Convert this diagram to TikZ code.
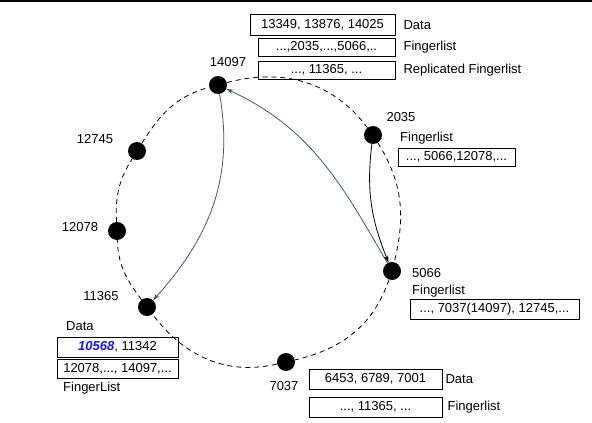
\documentclass[tikz,border=0pt]{standalone}
\usepackage{fontspec}
\setmainfont{Liberation Sans}
\usetikzlibrary{arrows.meta,positioning}
\definecolor{cteal}{RGB}{58,98,98}
\definecolor{cid}{RGB}{20,20,255}
\newcommand{\idfont}{\fontsize{13}{15}\selectfont}
\tikzset{
  peer/.style={circle,fill=black,draw=none,minimum size=18pt,inner sep=0pt},
  ring/.style={dash pattern=on 5pt off 4pt,line width=0.8pt},
  listbox/.style={rectangle,draw,line width=0.8pt,inner sep=0pt,font=\idfont},
  lab/.style={inner sep=0pt,font=\idfont},
  arr/.style={-{Stealth[length=7pt,width=4.5pt]},line width=0.8pt},
  farr/.style={arr,color=cteal}
}

\begin{document}
\begin{tikzpicture}[x=1pt,y=-1pt]
  \useasboundingbox (0,0) rectangle (592,423);
  \draw[line width=2pt] (0,1) -- (592,1);
  % peers on the ring
  \node[peer] (n14097) at (218,85) {};
  \node[peer] (n2035) at (373,135) {};
  \node[peer] (n5066) at (392,271) {};
  \node[peer] (n7037) at (286,362) {};
  \node[peer] (n11365) at (147,307) {};
  \node[peer] (n12078) at (117,231) {};
  \node[peer] (n12745) at (137,151) {};
  \foreach \a/\b/\o/\i in {n14097/n2035/15/127, n2035/n5066/-58/76,
      n5066/n7037/-109/13, n7037/n11365/-167/-53, n11365/n12078/127/-88,
      n12078/n12745/93/-122, n12745/n14097/58/-165}
    \draw[ring] (\a) to[out=\o,in=\i] (\b);
  \node[lab] (l14097) at (228,62) {14097};
  \node[lab] (l2035) at (401,117) {2035};
  \node[lab,anchor=west] (l5066) at (412,273) {5066};
  \node[lab] (l7037) at (284,386) {7037};
  \node[lab] (l11365) at (101,296) {11365};
  \node[lab] (l12078) at (80,227) {12078};
  \node[lab] (l12745) at (95,139) {12745};
  % lists of 14097
  \node[listbox,minimum width=145pt,minimum height=21pt] (d14097) at (322.5,25) {13349, 13876, 14025};
  \node[listbox,minimum width=137pt,minimum height=18pt] (f14097) at (326.5,47) {...,2035,...,5066,..\hspace{10pt}};
  \node[listbox,minimum width=137pt,minimum height=18pt] (r14097) at (326.5,70) {..., 11365, ...};
  \node[lab,right=8pt of d14097] {Data};
  \node[lab,right=8pt of f14097] {Fingerlist};
  \node[lab,right=8pt of r14097] {Replicated Fingerlist};
  % lists of 2035
  \node[lab,anchor=west] (t2035) at (400,138) {Fingerlist};
  \node[listbox,minimum width=117pt,minimum height=18pt] (f2035) at (456.5,157) {..., 5066,12078,...};
  % lists of 5066
  \node[lab,anchor=west] (t5066) at (412,291) {Fingerlist};
  \node[listbox,minimum width=169pt,minimum height=20pt] (f5066) at (494.5,309) {..., 7037(14097), 12745,...};
  % lists of 11365
  \node[lab,anchor=west] (s11365) at (66,326) {Data};
  \node[listbox,minimum width=121pt,minimum height=20pt] (d11365) at (117.5,347) {\textcolor{cid}{\textbf{\textit{10568}}}, 11342};
  \node[listbox,minimum width=121pt,minimum height=19pt] (f11365) at (117.5,368.5) {12078,..., 14097,...};
  \node[lab,anchor=west] (t11365) at (63,388) {FingerList};
  % lists of 7037
  \node[listbox,minimum width=133pt,minimum height=20pt] (d7037) at (375.5,379) {6453, 6789, 7001};
  \node[listbox,minimum width=133pt,minimum height=20pt] (f7037) at (375.5,407) {..., 11365, ...};
  \node[lab,right=3pt of d7037] {Data};
  \node[lab,right=5pt of f7037] {Fingerlist};
  % lookups
  \draw[farr] (n14097) to[out=-80,in=48] (n11365);
  \draw[farr] (n5066) to[out=120,in=-25] (n14097);
  \draw[arr] (n2035) to[out=-97,in=112] (n5066);
\end{tikzpicture}
\end{document}
